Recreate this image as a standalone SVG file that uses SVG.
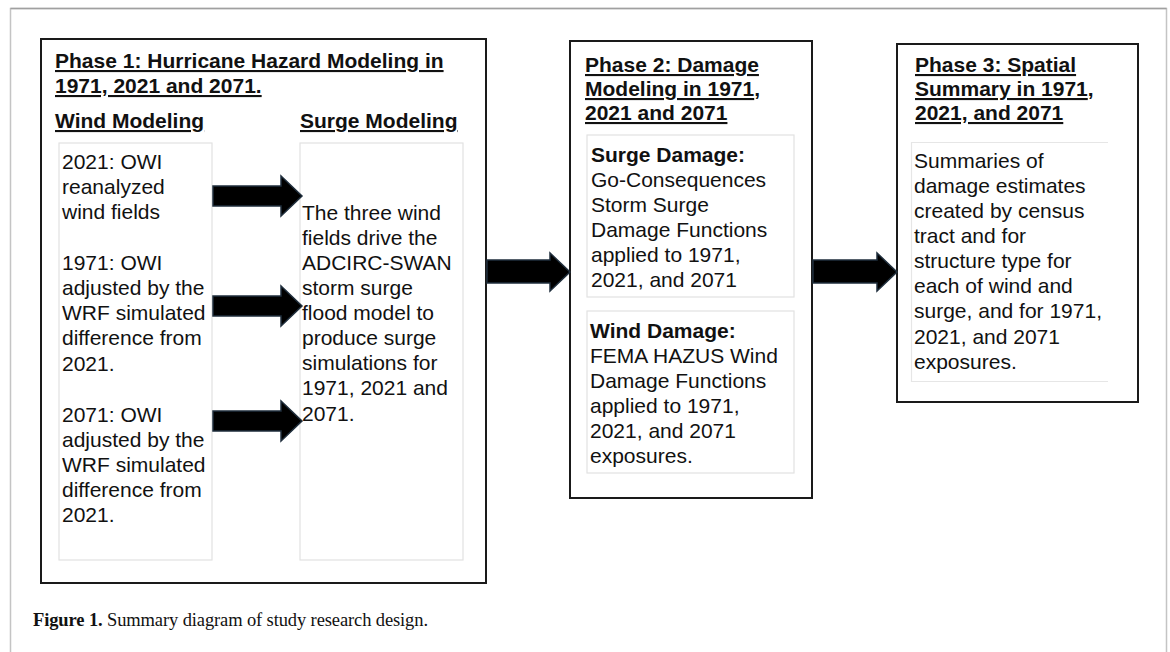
<svg xmlns="http://www.w3.org/2000/svg" width="1170" height="652" viewBox="0 0 1170 652">
<style>
.frame{fill:none;stroke:#1a1a1a;stroke-width:2}
.inner{fill:#fff;stroke:#e2e2e2;stroke-width:1.2}
.t{font-family:"Liberation Sans",Arial,sans-serif;font-size:21px;fill:#111}
.b{font-weight:bold}
.u{text-decoration:underline}
.arr{fill:#000;stroke:#1f2e3c;stroke-width:1.5;stroke-linejoin:miter}
.cap{font-family:"Liberation Serif","Times New Roman",serif;font-size:18.5px;fill:#111}
</style>
<rect x="0" y="0" width="1170" height="652" fill="#fff"/>
<path d="M10.5,660 V8.5 H1166.5 V660" fill="none" stroke="#c4c4c4" stroke-width="1.5"/>
<path d="M10.5,8.5 H1166.5" fill="none" stroke="#a0a0a0" stroke-width="1.5"/>

<g id="phase1">
<rect class="frame" x="41" y="39" width="445" height="544"/>
<text class="t b u" x="55" y="68">Phase 1: Hurricane Hazard Modeling in</text>
<text class="t b u" x="55" y="93">1971, 2021 and 2071.</text>
</g>

<g id="wind-modeling">
<text class="t b u" x="55" y="128">Wind Modeling</text>
<rect class="inner" x="59" y="143" width="153" height="417"/>
<text class="t" x="62">
<tspan x="62" y="169">2021: OWI</tspan>
<tspan x="62" y="194">reanalyzed</tspan>
<tspan x="62" y="219">wind fields</tspan>
<tspan x="62" y="270">1971: OWI</tspan>
<tspan x="62" y="295">adjusted by the</tspan>
<tspan x="62" y="320">WRF simulated</tspan>
<tspan x="62" y="345">difference from</tspan>
<tspan x="62" y="371">2021.</tspan>
<tspan x="62" y="422">2071: OWI</tspan>
<tspan x="62" y="447">adjusted by the</tspan>
<tspan x="62" y="472">WRF simulated</tspan>
<tspan x="62" y="497">difference from</tspan>
<tspan x="62" y="522">2021.</tspan>
</text>
</g>

<g id="surge-modeling">
<text class="t b u" x="300" y="128">Surge Modeling</text>
<rect class="inner" x="300" y="143" width="163" height="417"/>
<text class="t">
<tspan x="302" y="220">The three wind</tspan>
<tspan x="302" y="245">fields drive the</tspan>
<tspan x="302" y="270">ADCIRC-SWAN</tspan>
<tspan x="302" y="295">storm surge</tspan>
<tspan x="302" y="320">flood model to</tspan>
<tspan x="302" y="345">produce surge</tspan>
<tspan x="302" y="370">simulations for</tspan>
<tspan x="302" y="395">1971, 2021 and</tspan>
<tspan x="302" y="421">2071.</tspan>
</text>
</g>

<g id="phase2">
<rect class="frame" x="570" y="41" width="242" height="457"/>
<text class="t b"><tspan x="585" y="72" class="u">Phase 2: Damage</tspan><tspan x="585" y="96" class="u">Modeling in 1971</tspan><tspan>,</tspan><tspan x="585" y="120" class="u">2021 and 2071</tspan></text>
</g>

<g id="surge-damage">
<rect class="inner" x="587" y="135" width="207" height="162"/>
<text class="t">
<tspan x="591" y="162" class="b">Surge Damage:</tspan>
<tspan x="591" y="187">Go-Consequences</tspan>
<tspan x="591" y="212">Storm Surge</tspan>
<tspan x="591" y="237">Damage Functions</tspan>
<tspan x="591" y="262">applied to 1971,</tspan>
<tspan x="591" y="287">2021, and 2071</tspan>
</text>
</g>

<g id="wind-damage">
<rect class="inner" x="587" y="311" width="207" height="162"/>
<text class="t">
<tspan x="590" y="338" class="b">Wind Damage:</tspan>
<tspan x="590" y="363">FEMA HAZUS Wind</tspan>
<tspan x="590" y="388">Damage Functions</tspan>
<tspan x="590" y="413">applied to 1971,</tspan>
<tspan x="590" y="438">2021, and 2071</tspan>
<tspan x="590" y="463">exposures.</tspan>
</text>
</g>

<g id="phase3">
<rect class="frame" x="897" y="44" width="241" height="358"/>
<text class="t b"><tspan x="915" y="72" class="u">Phase 3: Spatial</tspan><tspan x="915" y="96" class="u">Summary in 1971</tspan><tspan>,</tspan><tspan x="915" y="120" class="u">2021, and 2071</tspan></text>
</g>

<g id="spatial-summary">
<path d="M1108,142.5 H911.5 V381.5 H1108" fill="none" stroke="#e6e6e6" stroke-width="1.2"/>
<text class="t">
<tspan x="914" y="168">Summaries of</tspan>
<tspan x="914" y="193">damage estimates</tspan>
<tspan x="914" y="218">created by census</tspan>
<tspan x="914" y="243">tract and for</tspan>
<tspan x="914" y="268">structure type for</tspan>
<tspan x="914" y="293">each of wind and</tspan>
<tspan x="914" y="318">surge, and for 1971,</tspan>
<tspan x="914" y="344">2021, and 2071</tspan>
<tspan x="914" y="369">exposures.</tspan>
</text>
</g>

<g id="connectors">
<path class="arr" d="M213,186 H281 V176 L302,196 L281,216 V206 H213 Z"/>
<path class="arr" d="M213,296 H281 V286 L302,306 L281,326 V316 H213 Z"/>
<path class="arr" d="M213,411 H281 V401 L302,421 L281,441 V431 H213 Z"/>
<path class="arr" d="M487,260 H550 V253 L570,272 L550,291 V283 H487 Z"/>
<path class="arr" d="M813,260 H877 V253 L897,272 L877,291 V283 H813 Z"/>
</g>

<text class="cap" x="33" y="626" textLength="395" lengthAdjust="spacing"><tspan font-weight="bold">Figure 1.</tspan> Summary diagram of study research design.</text>
</svg>
